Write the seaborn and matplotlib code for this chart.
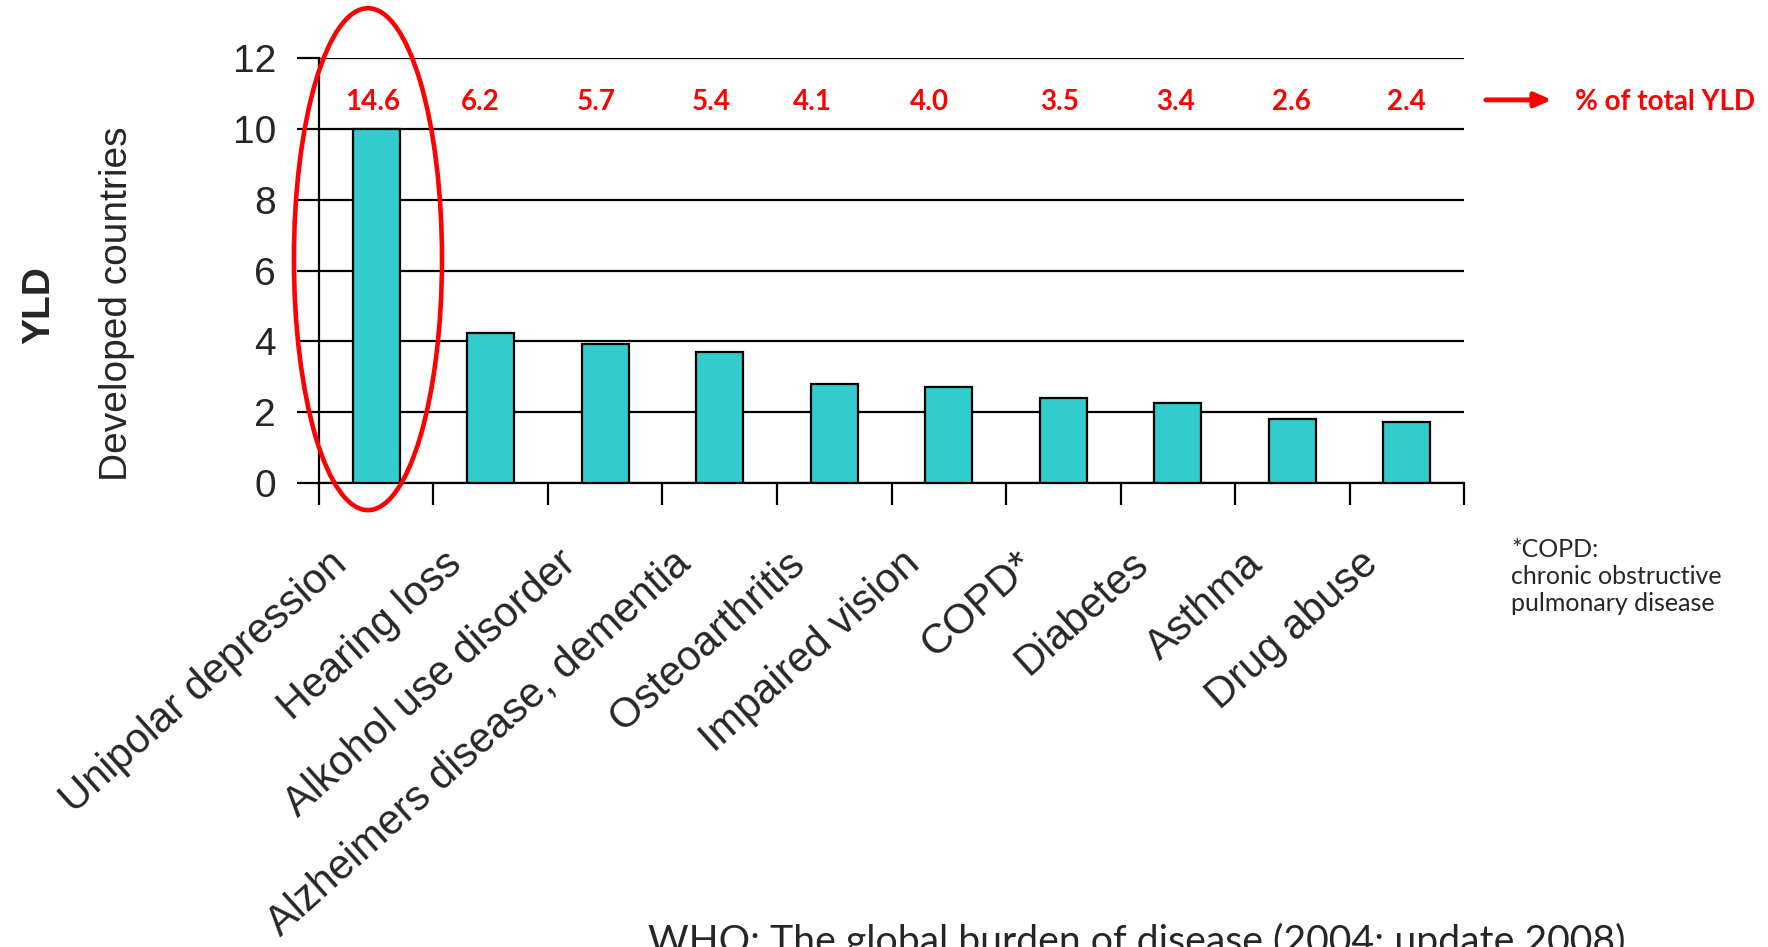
import matplotlib
matplotlib.use("Agg")
import matplotlib.pyplot as plt
import seaborn as sns
import pandas as pd
from matplotlib.patches import Ellipse
from matplotlib.transforms import ScaledTranslation

# Leading causes of years lived with disability (YLD), developed countries
categories = ["Unipolar depression", "Hearing loss", "Alkohol use disorder",
              "Alzheimers disease, dementia", "Osteoarthritis", "Impaired vision",
              "COPD*", "Diabetes", "Asthma", "Drug abuse"]
yld_millions = [10.0, 4.23, 3.92, 3.70, 2.79, 2.72, 2.41, 2.27, 1.82, 1.73]
pct_total_yld = ["14.6", "6.2", "5.7", "5.4", "4.1", "4.0", "3.5", "3.4", "2.6", "2.4"]
y_ticks = [0, 2, 4, 6, 8, 10, 12]

# small horizontal nudges of the percentage labels (category units)
label_shift = [-0.03, -0.09, -0.08, -0.07, -0.19, -0.17, -0.03, -0.02, -0.01, 0.0]

sns.set_style("white")
plt.rcParams["font.family"] = ["Liberation Sans", "DejaVu Sans"]

fig = plt.figure(figsize=(17.68, 9.47), dpi=100)
ax = fig.add_axes([0.1804, 0.4896, 0.6477, 0.4495])

df = pd.DataFrame({"cause": categories, "yld": yld_millions})
sns.barplot(data=df, x="cause", y="yld", color="#33CCCC", saturation=1,
            edgecolor="black", linewidth=1.6, width=0.41, ax=ax, zorder=3)

n = len(categories)
ax.set_xlim(-0.5, n - 0.5)
ax.set_ylim(0, 12)
ax.set_yticks(y_ticks)
ax.yaxis.grid(True, color="black", lw=1.6)
ax.xaxis.grid(False)
ax.set_axisbelow(True)
ax.set_xlabel("")
ax.set_ylabel("")

for side in ("top", "right"):
    ax.spines[side].set_visible(False)
for side in ("left", "bottom"):
    ax.spines[side].set_color("black")
    ax.spines[side].set_linewidth(1.6)

# tick marks on category boundaries, labels at category centres
ax.set_xticks([i - 0.5 for i in range(n + 1)])
ax.set_xticklabels([])
ax.set_xticks(list(range(n)), minor=True)
ax.set_xticklabels(categories, minor=True, rotation=42, ha="right", va="top",
                   rotation_mode="anchor", fontsize=30)
ax.tick_params(axis="x", which="major", length=16, width=1.6, direction="out",
               color="black", bottom=True)
ax.tick_params(axis="x", which="minor", length=0, pad=0, bottom=True)
ax.tick_params(axis="y", length=16, width=1.6, direction="out", color="black",
               labelsize=28, pad=15, left=True)
shift = ScaledTranslation(-0.48, -0.60, fig.dpi_scale_trans)
for lbl in ax.get_xticklabels(minor=True):
    lbl.set_transform(lbl.get_transform() + shift)

# percentage of total YLD above each bar
for i, (lab, off) in enumerate(zip(pct_total_yld, label_shift)):
    ax.text(i + off, 10.52, lab, ha="center", va="baseline", color="red",
            fontweight="bold", fontsize=20, family="Lato")

ax.annotate("", xy=(10.29, 10.81), xytext=(9.666, 10.81),
            arrowprops=dict(arrowstyle="-|>,head_length=0.5,head_width=0.22",
                            lw=3.5, color="red", mutation_scale=20),
            annotation_clip=False)
ax.text(10.47, 10.52, "% of total YLD", ha="left", va="baseline", color="red",
        fontweight="bold", fontsize=20, family="Lato", clip_on=False)

ax.add_patch(Ellipse((-0.072, 6.32), 1.293, 14.15, fill=False, ec="red",
                     lw=3.3, clip_on=False, zorder=5))

fig.text(39 / 1768, 1 - 305 / 947, "YLD", rotation=90, ha="center", va="center",
         fontsize=28, fontweight="bold")
fig.text(117 / 1768, 1 - 304 / 947, "Developed countries", rotation=90,
         ha="center", va="center", fontsize=28)

fig.text(1511 / 1768, 1 - 538 / 947,
         "*COPD:\nchronic obstructive\npulmonary disease",
         ha="left", va="top", fontsize=18, family="Lato", linespacing=1.2)

fig.text(648 / 1768, 1 - 953 / 947,
         "WHO: The global burden of disease (2004; update 2008)",
         ha="left", va="baseline", fontsize=28.3, family="Lato")

fig.savefig("out.png", dpi=100)
